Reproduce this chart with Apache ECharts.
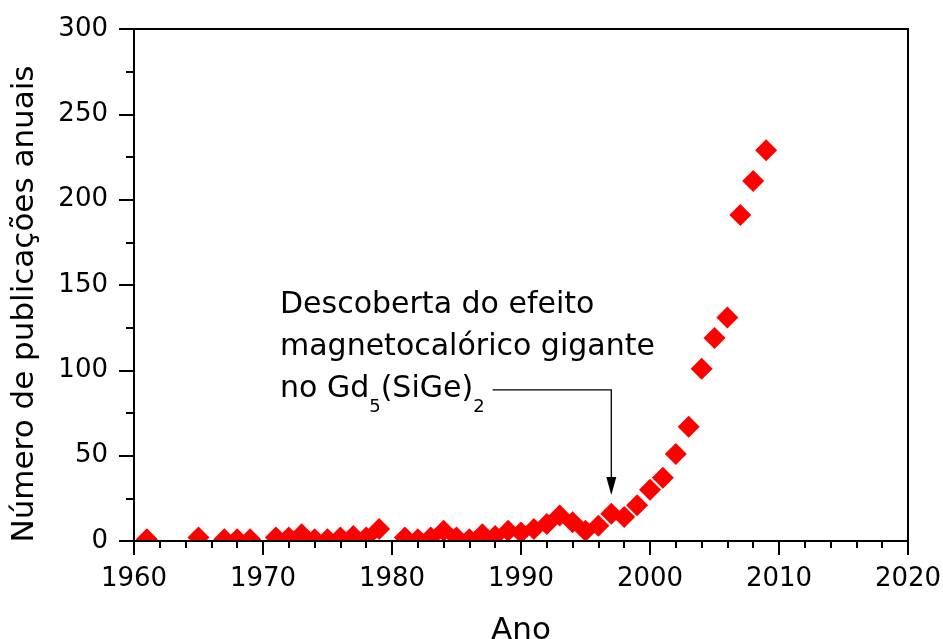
<!DOCTYPE html>
<html>
<head>
<meta charset="utf-8">
<script src="https://cdn.jsdelivr.net/npm/echarts@6/dist/echarts.min.js"></script>
<style>
  html, body { margin: 0; padding: 0; background: #fff; }
  #chart { width: 943px; height: 639px; }
</style>
</head>
<body>
<div id="chart"></div>
<script>
// Annual publication counts on the magnetocaloric effect
const years = [1961, 1965, 1967, 1968, 1969,
  1971, 1972, 1973, 1974, 1975, 1976, 1977, 1978, 1979,
  1981, 1982, 1983, 1984, 1985, 1986, 1987, 1988, 1989, 1990,
  1991, 1992, 1993, 1994, 1995, 1996, 1997, 1998, 1999, 2000,
  2001, 2002, 2003, 2004, 2005, 2006, 2007, 2008, 2009];
const publications = [1, 2, 1, 1, 1,
  2, 2, 4, 1, 1, 2, 3, 2, 7,
  2, 1, 2, 6, 2, 1, 4, 3, 6, 5,
  7, 10, 15, 11, 6, 9, 16, 14, 21, 30,
  37, 51, 67, 101, 119, 131, 191, 211, 229];

// Axis ranges
const xMin = 1960, xMax = 2020, xStep = 10;
const yMin = 0, yMax = 300, yStep = 50;

// Annotation: discovery of the giant magnetocaloric effect in Gd5(SiGe)2
const noteYear = 1997;        // arrow points at this year
const noteLineStart = 1987.8; // start of the horizontal leader
const noteBend = 88.5;        // height of the horizontal leader
const noteTip = 27;           // arrow tip height

const FONT = 'DejaVu Sans';

const chart = echarts.init(document.getElementById('chart'), null, { renderer: 'canvas' });

chart.setOption({
  backgroundColor: '#ffffff',
  animation: false,
  grid: {
    left: 134, right: 35, top: 29, bottom: 98,
    containLabel: false, outerBoundsMode: 'none',
    show: true, borderColor: '#000', borderWidth: 2, backgroundColor: 'transparent'
  },
  xAxis: {
    type: 'value', min: xMin, max: xMax, interval: xStep, z: 10,
    name: 'Ano', nameLocation: 'middle', nameGap: 74,
    nameTextStyle: { fontFamily: FONT, fontSize: 31, color: '#000' },
    axisLine: { onZero: false, lineStyle: { color: '#000', width: 2 } },
    axisTick: { length: 14, lineStyle: { color: '#000', width: 2 } },
    minorTick: { show: true, splitNumber: 5, length: 7, lineStyle: { color: '#000', width: 2 } },
    axisLabel: { fontFamily: FONT, fontSize: 26, color: '#000', margin: 25, formatter: v => String(v) },
    splitLine: { show: false }
  },
  yAxis: {
    type: 'value', min: yMin, max: yMax, interval: yStep, z: 10,
    name: 'Número de publicações anuais', nameLocation: 'middle', nameGap: 94,
    nameTextStyle: { fontFamily: FONT, fontSize: 31, color: '#000', padding: [0, 38, 0, 0] },
    axisLine: { lineStyle: { color: '#000', width: 2 } },
    axisTick: { length: 15, lineStyle: { color: '#000', width: 2 } },
    minorTick: { show: true, splitNumber: 2, length: 8, lineStyle: { color: '#000', width: 2 } },
    axisLabel: { fontFamily: FONT, fontSize: 26, color: '#000', margin: 26, formatter: v => String(v) },
    splitLine: { show: false }
  },
  series: [{
    type: 'scatter',
    data: years.map((y, i) => [y, publications[i]]),
    symbol: 'diamond',
    symbolSize: 22,
    itemStyle: { color: '#ff0000', opacity: 1 },
    z: 3
  }]
});

// Leader line and arrow, placed in data coordinates
const pStart = chart.convertToPixel({ gridIndex: 0 }, [noteLineStart, noteBend]);
const pBend = chart.convertToPixel({ gridIndex: 0 }, [noteYear, noteBend]);
const pTip = chart.convertToPixel({ gridIndex: 0 }, [noteYear, noteTip]);
const pOrigin = chart.convertToPixel({ gridIndex: 0 }, [xMin, yMin]);
const headLen = 18, headHalf = 5;

chart.setOption({
  graphic: [
    {
      // markers are cut off at the bottom of the plot frame
      type: 'rect',
      shape: { x: 0, y: pOrigin[1], width: 943, height: 639 - pOrigin[1] },
      style: { fill: '#ffffff' },
      z: 5
    },
    {
      type: 'polyline',
      shape: { points: [pStart, pBend, [pTip[0], pTip[1] - headLen + 1]] },
      style: { stroke: '#000', lineWidth: 1.3, fill: null },
      z: 10
    },
    {
      type: 'polygon',
      shape: { points: [[pTip[0] - headHalf, pTip[1] - headLen], [pTip[0] + headHalf, pTip[1] - headLen], pTip] },
      style: { fill: '#000' },
      z: 10
    },
    {
      type: 'text',
      left: 280, top: 290,
      style: {
        text: '{m|Descoberta do efeito}\n{m|magnetocalórico gigante}\n{m|no Gd}{s|5}{m|(SiGe)}{s|2}',
        fill: '#000',
        font: '30px "DejaVu Sans"',
        rich: {
          m: { fontFamily: FONT, fontSize: 30, lineHeight: 42, verticalAlign: 'top', fill: '#000' },
          s: { fontFamily: FONT, fontSize: 18, lineHeight: 18, padding: [25, 0, 0, 0], verticalAlign: 'bottom', fill: '#000' }
        }
      },
      z: 10
    }
  ]
});
</script>
</body>
</html>
